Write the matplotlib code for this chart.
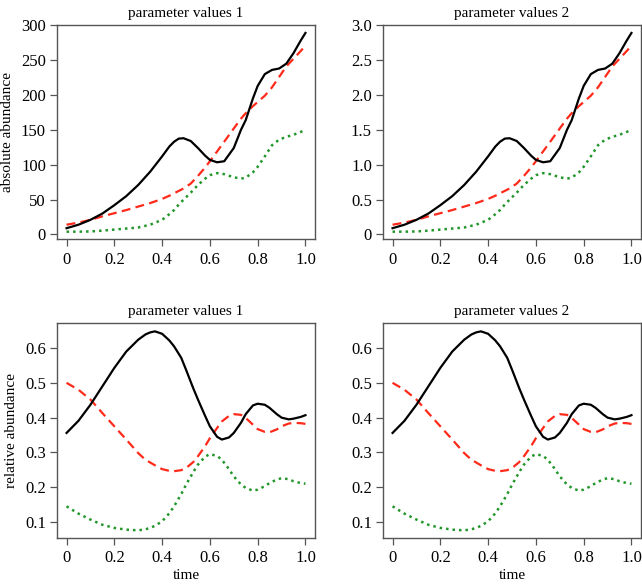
import matplotlib
matplotlib.use('Agg')
import matplotlib.pyplot as plt
import numpy as np

plt.rcParams['font.family'] = ['Liberation Serif', 'DejaVu Serif']

# time points for the absolute abundance panels
t_abs = [0, 0.05, 0.1, 0.15, 0.2, 0.25, 0.3, 0.35, 0.4, 0.43, 0.45, 0.47, 0.49,
         0.52, 0.55, 0.58, 0.6, 0.63, 0.66, 0.7, 0.73, 0.75, 0.78, 0.8, 0.83,
         0.86, 0.89, 0.92, 0.95, 0.98, 1.0]

# absolute abundance, parameter values 1
abs_black = [9, 14, 21, 30, 42, 55, 71, 90, 112, 126, 133, 137.5, 138,
             134, 124, 113, 107, 103.5, 105, 124, 150, 164, 195, 213, 230,
             236, 238, 245, 260, 278, 289]
abs_red = [14, 17, 21, 26, 30.5, 35, 40, 45, 51, 55.5, 59, 62.5, 66,
           73, 84, 96, 105, 119, 133, 152, 166, 174, 184, 190, 199,
           211, 226, 241, 252, 263, 271]
abs_green = [4, 4, 4.3, 5.5, 7, 8.5, 10, 14, 21, 29, 35, 43, 50,
             60, 71, 80, 85, 88, 86.5, 82, 80, 81.5, 89, 97, 112,
             128, 136, 140, 143, 147, 150]

# relative abundance (same in both parameter sets)
t_rel = [0, 0.05, 0.1, 0.15, 0.2, 0.25, 0.3, 0.33, 0.35, 0.37, 0.4, 0.43, 0.45,
         0.48, 0.5, 0.53, 0.55, 0.58, 0.6, 0.63, 0.65, 0.68, 0.7, 0.73, 0.75,
         0.78, 0.8, 0.83, 0.85, 0.88, 0.9, 0.93, 0.95, 0.98, 1.0]
rel_black = [0.356, 0.391, 0.437, 0.49, 0.543, 0.59, 0.624, 0.639, 0.645, 0.648,
             0.641, 0.622, 0.605, 0.572, 0.538, 0.485, 0.452, 0.405, 0.375, 0.345,
             0.337, 0.343, 0.356, 0.385, 0.41, 0.435, 0.44, 0.437, 0.428, 0.41,
             0.40, 0.395, 0.397, 0.402, 0.407]
rel_red = [0.5, 0.48, 0.452, 0.413, 0.375, 0.337, 0.298, 0.279, 0.271, 0.263,
           0.252, 0.247, 0.246, 0.249, 0.255, 0.272, 0.289, 0.318, 0.341, 0.37,
           0.389, 0.405, 0.41, 0.408, 0.399, 0.38, 0.367, 0.359, 0.358, 0.366,
           0.375, 0.383, 0.385, 0.384, 0.382]
rel_green = [0.145, 0.124, 0.107, 0.092, 0.083, 0.078, 0.076, 0.079, 0.083, 0.089,
             0.102, 0.125, 0.145, 0.18, 0.207, 0.243, 0.265, 0.288, 0.295, 0.29,
             0.279, 0.252, 0.231, 0.208, 0.198, 0.19, 0.193, 0.203, 0.212, 0.222,
             0.226, 0.223, 0.217, 0.212, 0.21]

# second parameter set: same shape, abundances 100x smaller
abs_scale = [1, 0.01]
titles = ['parameter values 1', 'parameter values 2']

xticks = [0, 0.2, 0.4, 0.6, 0.8, 1.0]
xticklabels = ['0', '0.2', '0.4', '0.6', '0.8', '1.0']
abs_yticks = [[0, 50, 100, 150, 200, 250, 300], [0, 0.5, 1.0, 1.5, 2.0, 2.5, 3.0]]
abs_yticklabels = [['0', '50', '100', '150', '200', '250', '300'],
                   ['0', '0.5', '1.0', '1.5', '2.0', '2.5', '3.0']]
rel_yticks = [0.1, 0.2, 0.3, 0.4, 0.5, 0.6]
rel_yticklabels = ['0.1', '0.2', '0.3', '0.4', '0.5', '0.6']

RED = '#ff2a1a'
GREEN = '#22962a'
BOX = '#555555'

fig = plt.figure(figsize=(6.42, 5.85), dpi=100)

W, H = 642.0, 585.0
lefts = [57, 383]
tops = [(25, 239), (323, 538)]


def make_ax(col, row):
    x0 = lefts[col]
    y0, y1 = tops[row]
    ax = fig.add_axes([x0 / W, 1 - y1 / H, 258 / W, (y1 - y0) / H])
    for s in ax.spines.values():
        s.set_color(BOX)
        s.set_linewidth(1.0)
    ax.tick_params(direction='out', length=5, width=0.9, color=BOX,
                   labelsize=12, pad=3)
    ax.tick_params(axis='x', pad=4)
    ax.set_xlim(-0.04, 1.04)
    ax.set_xticks(xticks)
    ax.set_xticklabels(xticklabels)
    ax.set_title(titles[col], fontsize=11, pad=6)
    return ax


def draw(ax, x, blk, red, grn):
    ax.plot(x, grn, color=GREEN, lw=1.8, dashes=(1.0, 1.6))
    ax.plot(x, red, color=RED, lw=1.6, dashes=(4.0, 2.4))
    ax.plot(x, blk, color='black', lw=1.6)


for col in range(2):
    k = abs_scale[col]
    ax = make_ax(col, 0)
    draw(ax, t_abs, np.array(abs_black) * k, np.array(abs_red) * k, np.array(abs_green) * k)
    ax.set_ylim(-6.5 * k, 300.4 * k)
    ax.set_yticks(abs_yticks[col])
    ax.set_yticklabels(abs_yticklabels[col])
    if col == 0:
        ax.set_ylabel('absolute abundance', fontsize=11, labelpad=5)

    ax = make_ax(col, 1)
    draw(ax, t_rel, rel_black, rel_red, rel_green)
    ax.set_ylim(0.054, 0.672)
    ax.set_yticks(rel_yticks)
    ax.set_yticklabels(rel_yticklabels)
    ax.set_xlabel('time', fontsize=11, labelpad=2)
    if col == 0:
        ax.set_ylabel('relative abundance', fontsize=11, labelpad=5)

fig.savefig('out.png', dpi=100)
